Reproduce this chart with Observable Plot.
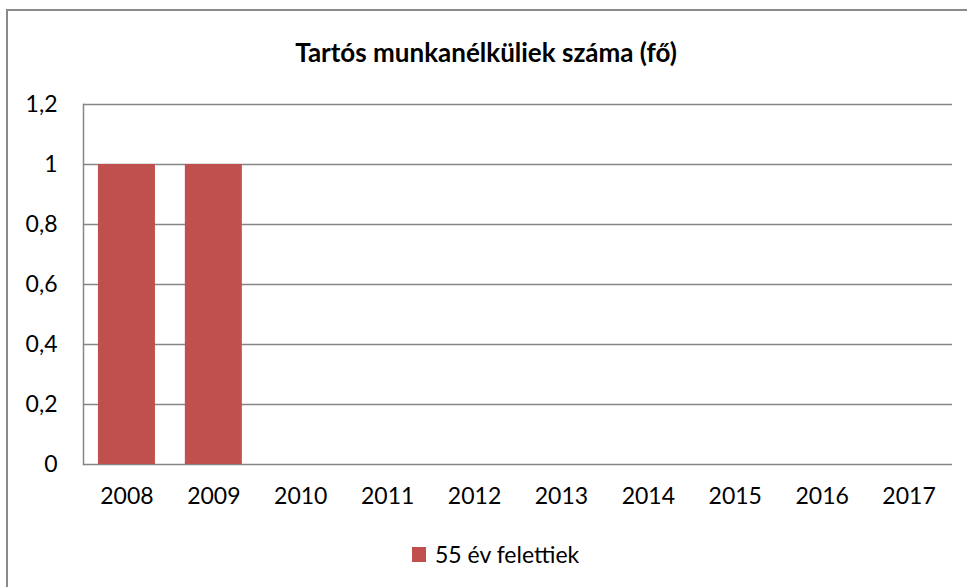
<!DOCTYPE html>
<html>
<head>
<meta charset="utf-8">
<script src="https://cdn.jsdelivr.net/npm/d3@7"></script>
<script src="https://cdn.jsdelivr.net/npm/@observablehq/plot@0.6"></script>
<style>
  html, body { margin: 0; padding: 0; background: #fff; }
  #wrap { position: relative; width: 967px; height: 587px; overflow: hidden; font-family: Lato, "Open Sans", sans-serif; }
  #border { position: absolute; left: 6px; top: 9px; width: 980px; height: 600px; border: 2px solid #8a8a8a; box-sizing: border-box; }
  #title { position: absolute; left: 0; top: 36px; width: 972px; text-align: center; font-size: 26px; font-weight: bold; color: #000; }
  #legend { position: absolute; left: 412px; top: 540px; font-size: 23px; color: #000; display: flex; align-items: center; }
  #legend .sw { width: 14px; height: 15px; background: #C0504D; margin-right: 9px; }
  #chart { position: absolute; left: 0; top: 0; }
</style>
</head>
<body>
<div id="wrap">
  <div id="border"></div>
  <div id="chart"></div>
  <div id="title">Tartós munkanélküliek száma (fő)</div>
  <div id="legend"><span class="sw"></span><span>55 év felettiek</span></div>
</div>
<script>
const years = ["2008","2009","2010","2011","2012","2013","2014","2015","2016","2017"];
const values = [1, 1, 0, 0, 0, 0, 0, 0, 0, 0];
const yTicks = [0, 0.2, 0.4, 0.6, 0.8, 1, 1.2];
const seriesName = "55 év felettiek";
const barColor = "#C0504D";

const data = years.map((y, i) => ({year: y, value: values[i], series: seriesName}));

const chart = Plot.plot({
  width: 967,
  height: 587,
  marginLeft: 83,
  marginRight: 15,
  marginTop: 104,
  marginBottom: 123,
  style: {fontFamily: "Lato, 'Open Sans', sans-serif", fontSize: "23px", color: "#000", background: "transparent"},
  x: {domain: years, paddingInner: 0.344, paddingOuter: 0.172, round: false, label: null},
  y: {domain: [0, 1.2], label: null},
  marks: [
    Plot.ruleY(yTicks, {stroke: "#868686", strokeWidth: 1.5}),
    Plot.frame({anchor: "left", stroke: "#868686", strokeWidth: 1.5}),
    Plot.barY(data, {x: "year", y: "value", fill: barColor}),
    Plot.axisY({ticks: yTicks, tickSize: 0, tickPadding: 26, tickFormat: d => String(d).replace(".", ","), fontSize: 23, label: null}),
    Plot.axisX({tickSize: 0, tickPadding: 23, fontSize: 23, label: null})
  ]
});
document.getElementById("chart").appendChild(chart);
</script>
</body>
</html>
